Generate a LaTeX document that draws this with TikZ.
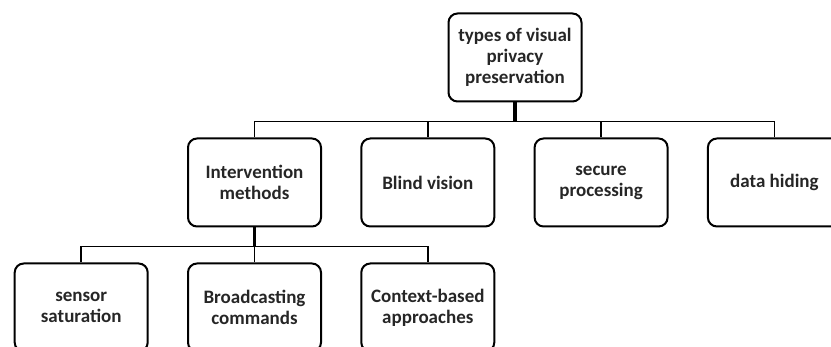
\documentclass[tikz,border=0pt]{standalone}
\usepackage{fontspec}
\setmainfont{Carlito}
\usetikzlibrary{positioning}

\begin{document}
\begin{tikzpicture}[node distance={38.3pt}, main/.style = {draw, rounded corners=9pt, line width=2pt, minimum width=133pt, minimum height=88pt, inner sep=0pt, align=center, font=\fontsize{19}{21}\selectfont\bfseries, text=black!85}, link/.style = {line width=1.8pt}]
\useasboundingbox (0,0) rectangle (831pt,-347pt);
\clip (0,0) rectangle (831pt,-347pt);
\node[main] (tv) at (515pt,-57.5pt) {types of visual\\privacy\\preservation};
\node[main] (im) at (254.5pt,-182.5pt) {Intervention\\methods};
\node[main] (bv) [right=of im] {Blind vision};
\node[main] (sp) [right=of bv] {secure\\processing};
\node[main] (dh) [right=of sp] {data hiding};
\node[main] (bc) [below=35pt of im] {Broadcasting\\commands};
\node[main] (ss) [left=of bc] {sensor\\saturation};
\node[main] (cb) [right=of bc] {Context-based\\approaches};

\draw[link] (tv.south) -- ++(0,-19pt) -| (im.north);
\draw[link] (tv.south) -- ++(0,-19pt) -| (bv.north);
\draw[link] (tv.south) -- ++(0,-19pt) -| (sp.north);
\draw[link] (tv.south) -- ++(0,-19pt) -| (dh.north);
\draw[line width=3.5pt] (tv.south) -- ++(0,-19pt);
\draw[link] (im.south) -- ++(0,-19pt) -| (ss.north);
\draw[link] (im.south) -- ++(0,-19pt) -| (bc.north);
\draw[link] (im.south) -- ++(0,-19pt) -| (cb.north);
\draw[line width=3.5pt] (im.south) -- ++(0,-19pt);
\end{tikzpicture}
\end{document}
